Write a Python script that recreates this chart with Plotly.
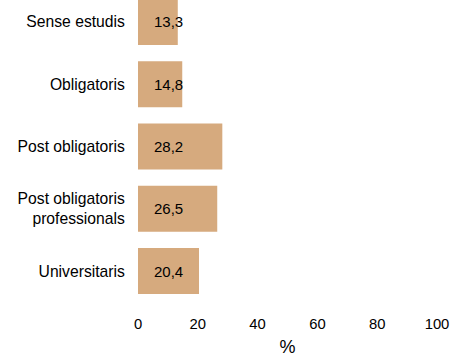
import plotly.graph_objects as go

categories = ["Sense estudis", "Obligatoris", "Post obligatoris", "Post obligatoris<br>professionals", "Universitaris"]
values = [13.3, 14.8, 28.2, 26.5, 20.4]
value_labels = ["13,3", "14,8", "28,2", "26,5", "20,4"]
x_ticks = [0, 20, 40, 60, 80, 100]

fig = go.Figure()
fig.add_trace(go.Bar(
    y=categories, x=values, orientation="h",
    marker=dict(color="#D6AA7E", line=dict(width=0)),
    width=0.74, hoverinfo="skip",
))
for c, v, t in zip(categories, values, value_labels):
    fig.add_annotation(x=0, y=c, text=t, showarrow=False, xanchor="left",
                       xshift=14, font=dict(size=15, color="#000000"))

fig.update_layout(
    width=452, height=357,
    margin=dict(l=138, r=15, t=0, b=55, autoexpand=False),
    paper_bgcolor="white", plot_bgcolor="white",
    font=dict(family="Liberation Sans, Arial, sans-serif", size=15, color="#000000"),
    showlegend=False,
)
fig.update_xaxes(range=[0, 100], tickvals=x_ticks, showgrid=False, zeroline=False,
                 showline=False, ticks="outside", ticklen=8, tickcolor="rgba(0,0,0,0)",
                 tickfont=dict(size=14.8),
                 title=dict(text="%", standoff=15), fixedrange=True, automargin=False)
fig.update_yaxes(categoryorder="array", categoryarray=categories,
                 range=[4.498, -0.353], showgrid=False, zeroline=False, showline=False,
                 ticks="outside", ticklen=9, tickcolor="rgba(0,0,0,0)", fixedrange=True,
                 tickfont=dict(size=15.7), automargin=False)

fig.write_html("out.html", config={"displayModeBar": False},
               post_script="document.body.style.margin='0';")
